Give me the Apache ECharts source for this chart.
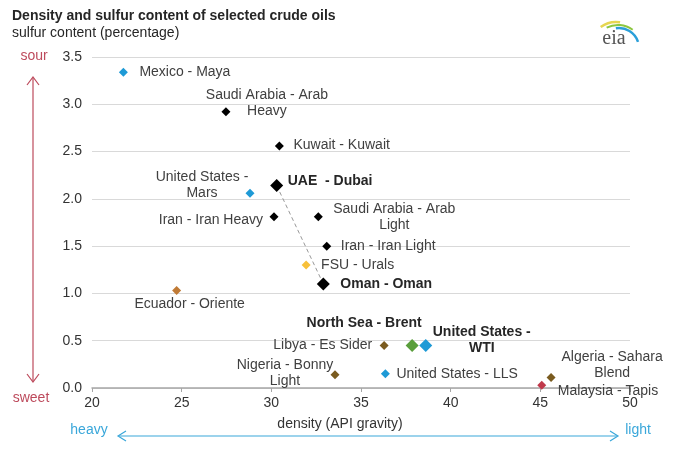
<!DOCTYPE html>
<html>
<head>
<meta charset="utf-8">
<title>Density and sulfur content of selected crude oils</title>
<script src="https://cdn.jsdelivr.net/npm/echarts@6/dist/echarts.min.js"></script>
<style>
  html, body { margin: 0; padding: 0; background: #fff; }
  #main { width: 700px; height: 451px; }
</style>
</head>
<body>
<div id="main"></div>
<script>
// crude oil grades
var crudeNames = [
  'Mexico - Maya', 'Saudi Arabia - Arab\nHeavy', 'Kuwait - Kuwait', 'UAE  - Dubai',
  'United States -\nMars', 'Iran - Iran Heavy', 'Saudi Arabia - Arab\nLight', 'Iran - Iran Light',
  'FSU - Urals', 'Oman - Oman', 'Ecuador - Oriente', 'Libya - Es Sider',
  'North Sea - Brent', 'United States -\nWTI', 'Nigeria - Bonny\nLight', 'United States - LLS',
  'Algeria - Sahara\nBlend', 'Malaysia - Tapis'
];
// density (API gravity)
var apiGravity = [21.75, 27.47, 30.45, 30.3, 28.81, 30.15, 32.62, 33.09, 31.94, 32.9,
  24.72, 36.29, 37.85, 38.61, 33.55, 36.36, 45.6, 45.08];
// sulfur content (percentage)
var sulfurPct = [3.34, 2.92, 2.56, 2.14, 2.06, 1.81, 1.81, 1.50, 1.30, 1.10,
  1.03, 0.45, 0.45, 0.45, 0.14, 0.15, 0.11, 0.03];
var xTicks = [20, 25, 30, 35, 40, 45, 50];
var yTicks = [0, 0.5, 1, 1.5, 2, 2.5, 3, 3.5];

// styling per point (not data)
var markerColors = ['#1e9ad6', '#000', '#000', '#000', '#1e9ad6', '#000', '#000', '#000',
  '#f7c03a', '#000', '#c07a35', '#7a5b1f', '#5a9e3c', '#1e9ad6', '#7a5b1f', '#1e9ad6',
  '#7a5b1f', '#c0394b'];
var boldOnes = [3, 9, 12, 13];
// [dx, dy, align] of label anchor from marker centre
var labelPlace = [
  [16, 0, 'left'], [41, -9, 'center'], [14, -1, 'left'], [11, -4, 'left'],
  [-48, -8, 'center'], [-11, 3, 'right'], [76, 0, 'center'], [14, 0, 'left'],
  [15, 0, 'left'], [17, 0, 'left'], [13, 14, 'center'], [-12, 0, 'right'],
  [-48, -22, 'center'], [56, -5, 'center'], [-50, -2, 'center'], [11, 0, 'left'],
  [61, -12, 'center'], [16, 6, 'left']
];

var font = '"Liberation Sans", Arial, sans-serif';

var points = crudeNames.map(function (n, i) {
  var bold = boldOnes.indexOf(i) >= 0;
  var lp = labelPlace[i];
  return {
    name: n,
    value: [apiGravity[i], sulfurPct[i]],
    symbolSize: bold ? 13 : 9,
    itemStyle: { color: markerColors[i], opacity: 1 },
    label: {
      show: true,
      position: 'inside',
      formatter: n,
      offset: [lp[0], lp[1]],
      align: lp[2],
      verticalAlign: 'middle',
      fontFamily: font,
      fontSize: 14,
      lineHeight: 16,
      fontWeight: bold ? 'bold' : 'normal',
      color: bold ? '#262626' : '#404040'
    }
  };
});

var red = '#bd4a5c';
var blue = '#3aa7da';

var myChart = echarts.init(document.getElementById('main'));
var option = {
  animation: false,
  backgroundColor: '#fff',
  grid: { left: 92, right: 70, top: 57, bottom: 63 },
  xAxis: {
    type: 'value',
    min: xTicks[0],
    max: xTicks[xTicks.length - 1],
    interval: 5,
    splitLine: { show: false },
    axisLine: { show: true, lineStyle: { color: '#a6a6a6', width: 1.5 } },
    axisTick: { show: true, length: 4, lineStyle: { color: '#a6a6a6' } },
    axisLabel: { color: '#333', fontSize: 14, fontFamily: font, margin: 8 }
  },
  yAxis: {
    type: 'value',
    min: yTicks[0],
    max: yTicks[yTicks.length - 1],
    interval: 0.5,
    axisLine: { show: false },
    axisTick: { show: false },
    splitLine: { lineStyle: { color: '#d9d9d9', width: 1 } },
    axisLabel: {
      color: '#333', fontSize: 14, fontFamily: font, margin: 10,
      formatter: function (v) { return v.toFixed(1); }
    }
  },
  series: [{
    type: 'line',
    silent: true,
    symbol: 'none',
    z: 1,
    lineStyle: { color: '#999', width: 1, type: [4, 3] },
    data: [[apiGravity[3], sulfurPct[3]], [apiGravity[9], sulfurPct[9]]]
  }, {
    type: 'scatter',
    symbol: 'diamond',
    z: 3,
    data: points
  }],
  graphic: [
    { type: 'text', style: { x: 12, y: 16, text: 'Density and sulfur content of selected crude oils',
      font: 'bold 14px ' + font, fill: '#262626', verticalAlign: 'middle' } },
    { type: 'text', style: { x: 12, y: 33, text: 'sulfur content (percentage)',
      font: '14px ' + font, fill: '#262626', verticalAlign: 'middle' } },
    { type: 'text', style: { x: 34, y: 56, text: 'sour', font: '14px ' + font, fill: red,
      align: 'center', verticalAlign: 'middle' } },
    { type: 'text', style: { x: 31, y: 398, text: 'sweet', font: '14px ' + font, fill: red,
      align: 'center', verticalAlign: 'middle' } },
    { type: 'line', shape: { x1: 33, y1: 78, x2: 33, y2: 381 }, style: { stroke: red, lineWidth: 1.2 } },
    { type: 'polyline', shape: { points: [[27, 85], [33, 77], [39, 85]] }, style: { stroke: red, lineWidth: 1.2, fill: null } },
    { type: 'polyline', shape: { points: [[27, 374], [33, 382], [39, 374]] }, style: { stroke: red, lineWidth: 1.2, fill: null } },
    { type: 'text', style: { x: 89, y: 430, text: 'heavy', font: '14px ' + font, fill: blue,
      align: 'center', verticalAlign: 'middle' } },
    { type: 'text', style: { x: 638, y: 430, text: 'light', font: '14px ' + font, fill: blue,
      align: 'center', verticalAlign: 'middle' } },
    { type: 'line', shape: { x1: 119, y1: 436, x2: 617, y2: 436 }, style: { stroke: blue, lineWidth: 1.2 } },
    { type: 'polyline', shape: { points: [[126, 431], [118, 436], [126, 441]] }, style: { stroke: blue, lineWidth: 1.2, fill: null } },
    { type: 'polyline', shape: { points: [[610, 431], [618, 436], [610, 441]] }, style: { stroke: blue, lineWidth: 1.2, fill: null } },
    { type: 'text', style: { x: 340, y: 424, text: 'density (API gravity)', font: '14px ' + font, fill: '#333',
      align: 'center', verticalAlign: 'middle' } },
    // eia logo
    { type: 'arc', shape: { cx: 616, cy: 48, r: 26, startAngle: Math.PI * 1.3, endAngle: Math.PI * 1.55 },
      style: { stroke: '#e6d650', lineWidth: 2.5, fill: null } },
    { type: 'arc', shape: { cx: 618, cy: 50, r: 25, startAngle: Math.PI * 1.35, endAngle: Math.PI * 1.7 },
      style: { stroke: '#8cc63f', lineWidth: 2, fill: null } },
    { type: 'arc', shape: { cx: 619, cy: 48, r: 20, startAngle: Math.PI * 1.45, endAngle: Math.PI * 1.9 },
      style: { stroke: '#2b9fd9', lineWidth: 2.5, fill: null } },
    { type: 'text', style: { x: 614, y: 39, text: 'eia', font: '20px "Liberation Serif", serif', fill: '#555',
      align: 'center', verticalAlign: 'middle' } }
  ]
};
myChart.setOption(option);
</script>
</body>
</html>
